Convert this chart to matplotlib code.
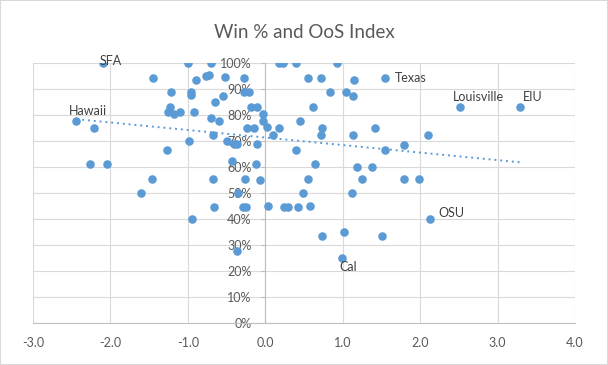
import numpy as np
import matplotlib
matplotlib.use("Agg")
from matplotlib import pyplot as plt
from matplotlib.patches import Rectangle
from matplotlib.ticker import FuncFormatter, MultipleLocator

# OoS index (x) and win % (y)
oos = [
    -2.09, -1.00, -0.705, -1.455, -0.90, -0.77, -0.73, -0.52, -0.275, -1.218,
    -0.96, -0.96, -0.55, -0.65, -0.275, -0.207, -0.19, -0.11, -1.23, -1.26,
    -1.18, -1.10, -0.917, -0.705, -0.598, -0.026, -0.026, 0.018, -0.24, -0.146,
    -2.44, -2.21, -0.986, -0.68, -0.49, -0.41, -0.36, -0.11, -1.27, -0.434,
    -2.26, -2.04, -0.12, -1.46, -0.67, -0.26, -0.068, -1.606, -0.35, -0.663,
    -0.29, -0.25, 0.04, -0.95, -0.37, 0.177, 0.233, 0.397, 0.922, 0.548,
    0.716, 1.146, 1.547, 0.836, 1.043, 1.129, 0.612, 2.52, 3.29, 0.448,
    0.18, 0.728, 0.716, 0.096, 1.129, 1.417, 2.10, 0.397, 1.547, 1.79,
    0.642, 1.18, 1.38, 0.548, 1.25, 1.79, 1.986, 0.483, 1.12, 0.245,
    0.289, 0.418, 0.578, 2.128, 0.728, 1.017, 1.508, 0.99,
]
win = [
    100.0, 100.0, 100.0, 94.5, 93.6, 95.3, 95.5, 94.9, 94.5, 89.1,
    89.1, 87.8, 87.5, 85.2, 89.1, 89.1, 83.3, 83.3, 83.3, 81.4,
    80.4, 81.4, 81.4, 79.1, 77.9, 80.4, 77.8, 75.4, 75.2, 75.2,
    77.9, 75.2, 70.2, 72.4, 70.2, 69.0, 69.0, 69.0, 66.7, 62.5,
    61.3, 61.3, 61.3, 55.5, 55.5, 55.5, 55.1, 50.2, 50.0, 44.8,
    44.8, 44.8, 45.1, 40.1, 27.8, 100.0, 100.0, 100.0, 100.0, 94.5,
    94.5, 93.6, 94.5, 89.1, 89.1, 87.5, 83.3, 83.3, 83.3, 77.9,
    75.2, 75.2, 72.4, 72.4, 72.4, 75.2, 72.4, 66.7, 66.7, 68.6,
    61.3, 60.2, 60.2, 55.5, 55.5, 55.5, 55.5, 50.2, 50.2, 44.8,
    44.8, 44.8, 45.2, 40.1, 33.7, 35.2, 33.7, 25.2,
]
win = [w / 100 for w in win]

# labelled teams: name -> index into the arrays above
names = {"SFA": 0, "Hawaii": 30, "Texas": 62, "Louisville": 67, "EIU": 68,
         "OSU": 93, "Cal": 97}

plt.rcParams['font.family'] = ['Lato', 'DejaVu Sans']

blue = '#5b9bd5'
grey_txt = '#595959'
grid_c = '#d9d9d9'

fig = plt.figure(figsize=(6.08, 3.65), dpi=100)
ax = fig.add_axes([33 / 608, 1 - 323.3 / 365, 542 / 608, 260 / 365])

ax.scatter(oos, win, s=38, color=blue, zorder=3, linewidths=0)

# linear trendline over the data range
k, b = np.polyfit(oos, win, 1)
xs = np.array([min(oos), max(oos)])
ax.plot(xs, k * xs + b, color=blue, lw=1.4, ls=(0, (1, 2)), zorder=2)

offsets = {"SFA": (5, 2, 'center', 'center'),
           "Hawaii": (8, 3, 'center', 'bottom'),
           "Texas": (7, 0, 'left', 'center'),
           "Louisville": (13, 3, 'center', 'bottom'),
           "EIU": (2, 3, 'left', 'bottom'),
           "OSU": (6, 4, 'left', 'center'),
           "Cal": (-2, -2, 'left', 'top')}
for name, i in names.items():
    dx, dy, ha, va = offsets[name]
    ax.annotate(name, (oos[i], win[i]), xytext=(dx, dy), textcoords='offset points',
                ha=ha, va=va, fontsize=9, color='#404040', zorder=4)

ax.set_xlim(-3, 4)
ax.set_ylim(0, 1)
ax.xaxis.set_major_locator(MultipleLocator(1))
ax.yaxis.set_major_locator(MultipleLocator(0.1))
ax.xaxis.set_major_formatter(FuncFormatter(lambda v, p: f"{v:.1f}"))
ax.yaxis.set_major_formatter(FuncFormatter(lambda v, p: f"{v * 100:.0f}%"))

ax.grid(True, color=grid_c, lw=0.8, zorder=0)
ax.set_axisbelow(True)
for s in ['top', 'right']:
    ax.spines[s].set_visible(False)
ax.spines['left'].set_position(('data', 0))
ax.spines['left'].set_color('#bfbfbf')
ax.spines['bottom'].set_color('#bfbfbf')
ax.tick_params(axis='x', length=0, pad=10, labelsize=9, labelcolor=grey_txt)
ax.tick_params(axis='y', length=3, width=0.8, color='#bfbfbf', pad=7,
               labelsize=9, labelcolor=grey_txt)

fig.suptitle("Win % and OoS Index", y=0.935, fontsize=13.5, color=grey_txt)

fig.patches.append(Rectangle((0, 0), 1, 1, transform=fig.transFigure, fill=False,
                             edgecolor='#d9d9d9', lw=1.5))

fig.savefig('out.png', dpi=100)
